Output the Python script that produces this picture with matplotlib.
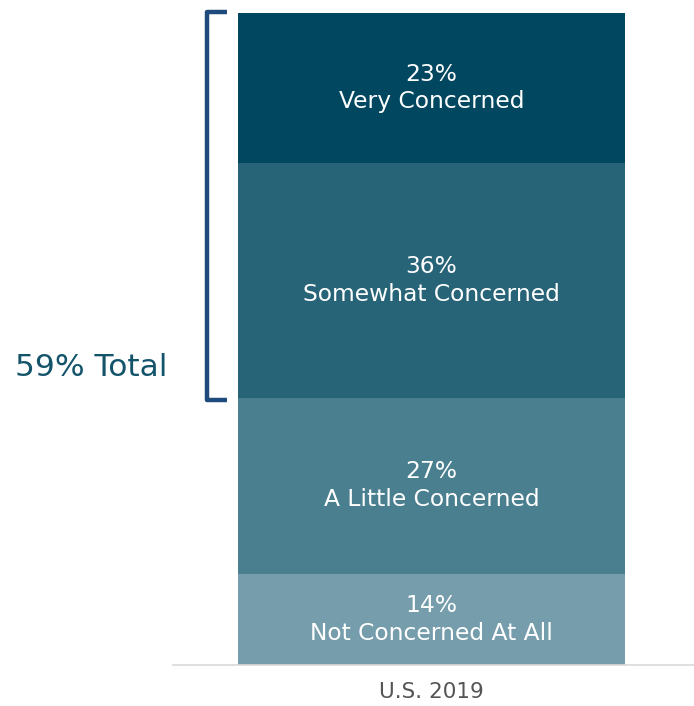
import matplotlib.pyplot as plt

plt.rcParams['font.family'] = ['DejaVu Sans']

# data, bottom to top
labels = ['Not Concerned At All', 'A Little Concerned', 'Somewhat Concerned', 'Very Concerned']
values = [14, 27, 36, 23]
colors = ['#769dac', '#4a7f90', '#276478', '#00475f']
category = 'U.S. 2019'
bracket_total = 59

fig = plt.figure(figsize=(6.94, 7.06), dpi=100)
# axes spans x 173..694 px, y 13..665 px
ax = fig.add_axes([173 / 694, 41 / 706, 521 / 694, 652 / 706])

bottom = 0
for lab, val, col in zip(labels, values, colors):
    ax.bar(0, val, width=1, bottom=bottom, color=col, edgecolor='none')
    ax.text(0, bottom + val / 2, f'{val}%\n{lab}', ha='center', va='center',
            color='white', fontsize=16.8, linespacing=1.25)
    bottom += val

ax.set_xlim(-0.5 - 65 / 387, 0.5 + 69 / 387)
ax.set_ylim(0, 100)
for s in ['top', 'right', 'left']:
    ax.spines[s].set_visible(False)
ax.spines['bottom'].set_color('#d9d9d9')
ax.spines['bottom'].set_linewidth(1.2)
ax.set_yticks([])
ax.set_xticks([0])
ax.set_xticklabels([category], fontsize=15.5, color='#555555')
ax.tick_params(axis='x', length=0, pad=12)

# bracket for top two categories
b_top = 100.2
b_bot = 100 - bracket_total - 0.4
bx = -0.58
ax.plot([bx + 0.052, bx, bx, bx + 0.052], [b_top, b_top, b_bot, b_bot],
        color='#1f4a7c', lw=3.2, solid_joinstyle='round', solid_capstyle='butt',
        clip_on=False)
ax.text(-0.683, b_bot + 5, f'{bracket_total}% Total', ha='right', va='center',
        fontsize=22.5, color='#13546b')

fig.savefig('out.png', dpi=100)
